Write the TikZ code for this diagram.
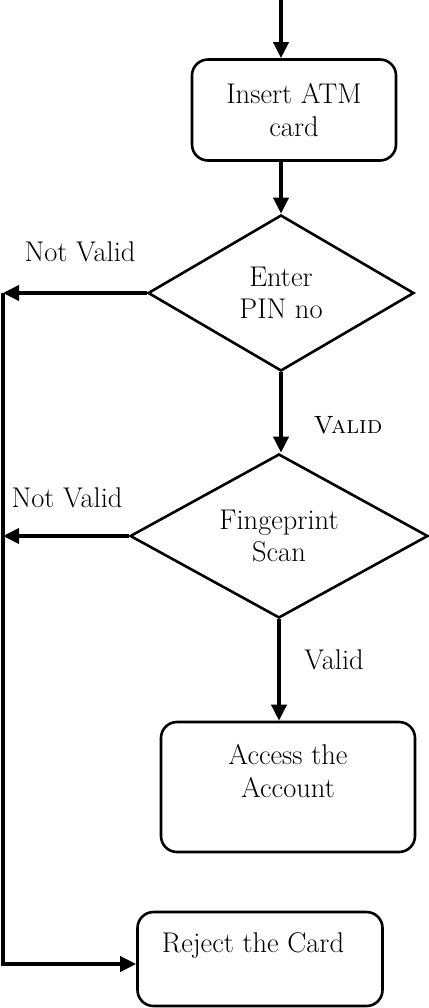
\documentclass[tikz,border=0pt]{standalone}
\usetikzlibrary{shapes.geometric,arrows.meta}
\tikzset{
  procbox/.style={draw,line width=2.6pt,rounded corners=16pt,align=center,inner sep=0pt},
  decbox/.style={draw,diamond,aspect=1.8,line width=2.6pt,align=center,inner sep=0pt},
  flow/.style={line width=3.6pt,-{Triangle[length=16pt,width=15pt]}}
}
\begin{document}
\begin{tikzpicture}[x=1pt,y=-1pt,font=\fontsize{28.5}{32.5}\selectfont]
\useasboundingbox (0,0) rectangle (428,1008);
\coordinate (start) at (281,0);
\coordinate (rail) at (3,0);
\node[procbox,minimum width=204pt,minimum height=101pt] (insert) at (294,110) {Insert ATM\\card};
\node[decbox,minimum width=266pt,minimum height=156pt] (pin) at (281,293) {Enter\\PIN no};
\node[decbox,minimum width=298pt,minimum height=164pt] (finger) at (279,536) {Fingeprint\\Scan};
\node[procbox,minimum width=254pt,minimum height=130pt] (access) at (288,787) {Access the\\Account\\\mbox{}};
\node[procbox,minimum width=245pt,minimum height=94pt] (reject) at (260,959) {Reject the Card\hspace*{14pt}\\\mbox{}};
\coordinate (rejin) at ([yshift=-5pt]reject.west);
% labels
\node (nvpin) at (80,252) {Not Valid};
\node (nvfinger) at (67,498) {Not Valid};
\node[font=\fontsize{25}{30}\selectfont] (okpin) at (348,425) {\textsc{Valid}};
\node (okfinger) at (334,660) {Valid};
% connectors
\draw[flow] (start) -- (start |- insert.north);
\draw[flow] (insert.south -| start) -- (pin.north);
\draw[flow] (pin.south) -- (pin.south |- finger.north);
\draw[flow] (finger.south) -- (finger.south |- access.north);
\draw[flow] (pin.west) -- (rail |- pin.west);
\draw[flow] (finger.west) -- (rail |- finger.west);
\draw[flow] (rail |- pin.west) -- (rail |- rejin) -- (rejin);
\end{tikzpicture}
\end{document}
